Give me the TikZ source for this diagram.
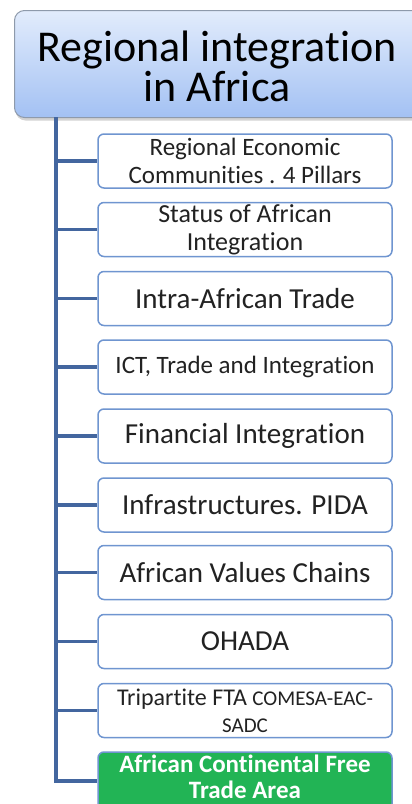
\documentclass[tikz,border=0pt]{standalone}
\usepackage{fontspec}
\setmainfont{Carlito}[RawFeature={-liga;-calt;-clig;-dlig}]
\usetikzlibrary{shadows}
\definecolor{spine}{HTML}{43669F}
\definecolor{boxline}{HTML}{6F95D0}
\definecolor{topA}{HTML}{E2ECFC}
\definecolor{topB}{HTML}{A3C1F3}
\definecolor{rootline}{HTML}{8E9AAB}
\definecolor{acgreen}{HTML}{22B455}
\definecolor{txt}{HTML}{222222}
\begin{document}
\begin{tikzpicture}[x=1pt,y=-1pt,
  item/.style={draw=boxline, line width=1.5pt, rounded corners=6pt, fill=white,
    minimum width=294pt, minimum height=54pt, align=center, inner sep=0pt, text=txt},
  link/.style={draw=spine, line width=3.5pt}]
\useasboundingbox (0,0) rectangle (412,804);
\clip (0,0) rectangle (412,804);
\node[draw=rootline, line width=1pt, rounded corners=10pt, top color=topA, bottom color=topB,
  minimum width=414pt, minimum height=107pt, anchor=north west, inner sep=0pt,
  drop shadow={opacity=0.35, shadow xshift=1pt, shadow yshift=-3pt}] (root) at (14,10) {};
\node[align=center, inner sep=0pt, font=\fontsize{44}{40}\selectfont] (title) at (217,66) {Regional integration\\in Africa};
\coordinate (top) at (56,117);
\node[item, font=\fontsize{25}{28}\selectfont] (c1) at (245,161) {Regional Economic\\Communities . 4 Pillars};
\node[item, font=\fontsize{26}{28}\selectfont] (c2) at (245,229.5) {Status of African\\Integration};
\node[item, font=\fontsize{29}{32}\selectfont] (c3) at (245,298.5) {Intra-African Trade};
\node[item, font=\fontsize{25}{28}\selectfont] (c4) at (245,367) {ICT, Trade and Integration};
\node[item, font=\fontsize{29}{32}\selectfont] (c5) at (245,436) {Financial Integration};
\node[item, font=\fontsize{29}{32}\selectfont] (c6) at (245,505) {Infrastructures. PIDA};
\node[item, font=\fontsize{29}{32}\selectfont] (c7) at (245,572.5) {African Values Chains};
\node[item, font=\fontsize{29}{32}\selectfont] (c8) at (245,641.5) {OHADA};
\node[item, font=\fontsize{24}{27}\selectfont] (c9) at (245,710.5) {Tripartite FTA {\fontsize{21}{27}\selectfont COMESA-EAC-}\\{\fontsize{21}{27}\selectfont SADC}};
\node[item, fill=acgreen, minimum height=58pt] (c10) at (245,781) {};
\node[align=center, inner sep=0pt, text=white, font=\fontsize{25}{26}\selectfont\bfseries] (c10t) at (245,777) {African Continental Free\\Trade Area};
\foreach \c in {c1,c2,c3,c4,c5,c6,c7,c8,c9,c10}
  \draw[link] (top) |- (\c.west);
\end{tikzpicture}
\end{document}
